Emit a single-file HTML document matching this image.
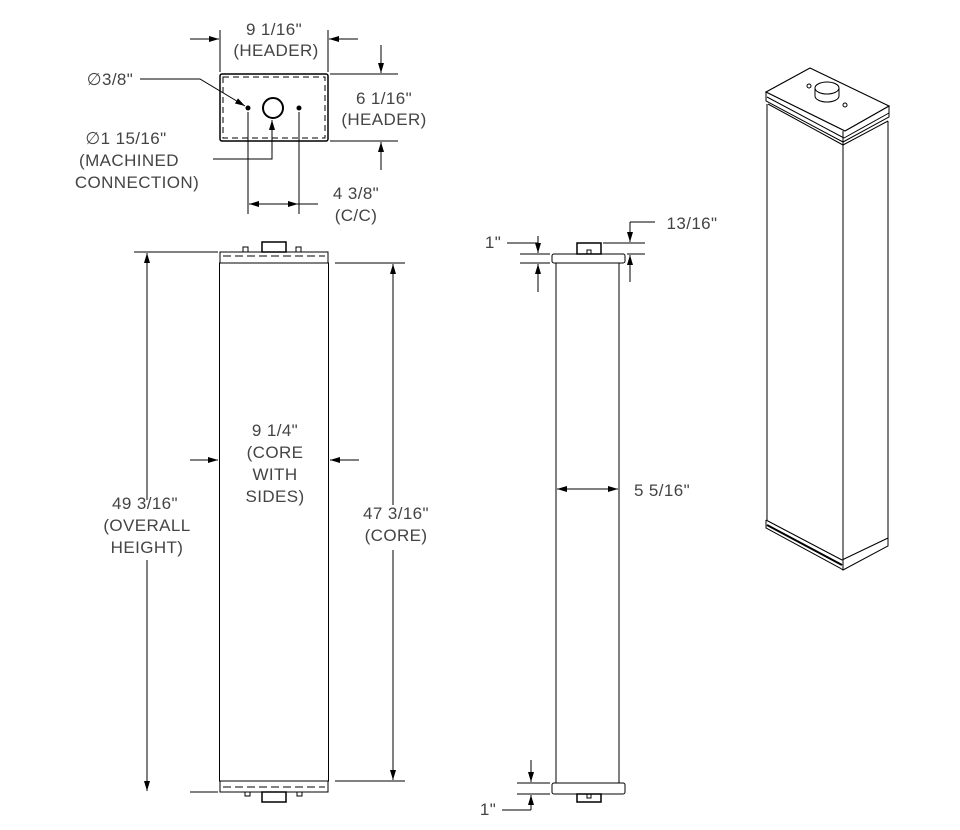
<!DOCTYPE html>
<html><head><meta charset="utf-8"><style>
html,body{margin:0;padding:0;background:#fff;}
svg{display:block;}
text{font-family:"Liberation Sans",sans-serif;font-size:17px;fill:#444;text-anchor:middle;letter-spacing:0.4px;}
</style></head><body>
<svg width="960" height="830" viewBox="0 0 960 830" xmlns="http://www.w3.org/2000/svg">
<defs>
<marker id="a" viewBox="0 0 10 6" refX="10" refY="3" markerWidth="10" markerHeight="6" orient="auto" markerUnits="userSpaceOnUse"><path d="M0,0L10,3L0,6z" fill="#000"/></marker>
</defs>
<g stroke="#000" stroke-width="1" fill="none">
<rect x="220" y="74" width="108" height="67" rx="2" stroke-width="1.5"/>
<rect x="223" y="77" width="102" height="61" stroke-dasharray="6,4"/>
<circle cx="273" cy="108" r="10" stroke-width="2"/>
<circle cx="248" cy="108" r="2" fill="#000"/>
<circle cx="299" cy="108" r="2" fill="#000"/>
<line x1="220" y1="30" x2="220" y2="72"/><line x1="328" y1="30" x2="328" y2="72"/>
<line x1="190" y1="39" x2="219" y2="39" marker-end="url(#a)"/>
<line x1="358" y1="39" x2="329" y2="39" marker-end="url(#a)"/>
<line x1="330" y1="74" x2="398" y2="74"/><line x1="330" y1="141" x2="398" y2="141"/>
<line x1="381" y1="45" x2="381" y2="73" marker-end="url(#a)"/>
<line x1="381" y1="170" x2="381" y2="142" marker-end="url(#a)"/>
<polyline points="140,79 200,79 245,106" marker-end="url(#a)"/>
<polyline points="213,159 272,159 272,120" marker-end="url(#a)"/>
<line x1="248" y1="112" x2="248" y2="214"/><line x1="299" y1="112" x2="299" y2="214"/>
<line x1="275" y1="204" x2="249" y2="204" marker-end="url(#a)"/>
<line x1="318" y1="204" x2="298" y2="204"/>
<line x1="275" y1="204" x2="298" y2="204" marker-end="url(#a)"/>

<rect x="262" y="242" width="24" height="10" stroke-width="1.5"/>
<rect x="243" y="247" width="5" height="5"/><rect x="296" y="247" width="5" height="5"/>
<rect x="220" y="252" width="108" height="11"/>
<line x1="223" y1="256" x2="325" y2="256" stroke-dasharray="8,4"/>
<rect x="219.5" y="263" width="109" height="518"/>
<rect x="220" y="781" width="108" height="11"/>
<line x1="223" y1="787" x2="325" y2="787" stroke-dasharray="8,4"/>
<rect x="262" y="792" width="24" height="10" stroke-width="1.5"/>
<rect x="245" y="792" width="5" height="4"/><rect x="297" y="792" width="5" height="4"/>
<line x1="134" y1="252" x2="218" y2="252"/><line x1="190" y1="792" x2="218" y2="792"/>
<line x1="147" y1="500" x2="147" y2="253" marker-end="url(#a)"/>
<line x1="147" y1="560" x2="147" y2="791" marker-end="url(#a)"/>
<line x1="335" y1="263" x2="405" y2="263"/><line x1="335" y1="781" x2="405" y2="781"/>
<line x1="393" y1="505" x2="393" y2="264" marker-end="url(#a)"/>
<line x1="393" y1="550" x2="393" y2="780" marker-end="url(#a)"/>
<line x1="190" y1="460" x2="218" y2="460" marker-end="url(#a)"/>
<line x1="359" y1="460" x2="330" y2="460" marker-end="url(#a)"/>

<rect x="577" y="243" width="24" height="11" stroke-width="1.5"/>
<rect x="587" y="250" width="4" height="4"/>
<rect x="552" y="254" width="73" height="9" rx="2"/>
<rect x="556" y="263" width="63" height="520"/>
<rect x="552" y="783" width="73" height="11" rx="2"/>
<rect x="577" y="794" width="24" height="8" stroke-width="1.5"/>
<rect x="587" y="794" width="4" height="4"/>
<line x1="520" y1="254" x2="550" y2="254"/><line x1="520" y1="263" x2="550" y2="263"/>
<line x1="538" y1="236" x2="538" y2="253" marker-end="url(#a)"/>
<line x1="538" y1="292" x2="538" y2="264" marker-end="url(#a)"/>
<line x1="507" y1="243" x2="538" y2="243"/>
<line x1="603" y1="243" x2="645" y2="243"/><line x1="627" y1="254" x2="645" y2="254"/>
<line x1="630" y1="222" x2="655" y2="222"/>
<line x1="630" y1="222" x2="630" y2="242" marker-end="url(#a)"/>
<line x1="630" y1="282" x2="630" y2="255" marker-end="url(#a)"/>
<line x1="586" y1="489" x2="557" y2="489" marker-end="url(#a)"/>
<line x1="586" y1="489" x2="618" y2="489" marker-end="url(#a)"/>
<line x1="517" y1="783" x2="550" y2="783"/><line x1="517" y1="794" x2="550" y2="794"/>
<line x1="531" y1="760" x2="531" y2="782" marker-end="url(#a)"/>
<line x1="531" y1="810" x2="531" y2="795" marker-end="url(#a)"/>
<line x1="502" y1="810" x2="531" y2="810"/>

<polygon points="766,92 810,68 889,106 845,131" stroke-width="1.2"/>
<polyline points="766,92 766,101 843,142 889,117 889,106"/>
<line x1="767" y1="97" x2="844" y2="138"/>
<line x1="844" y1="138" x2="889" y2="113"/>
<line x1="768" y1="104" x2="843" y2="145"/>
<line x1="843" y1="145" x2="888" y2="121"/>
<line x1="843" y1="131" x2="843" y2="145"/>
<ellipse cx="827" cy="88" rx="12" ry="6"/>
<path d="M815,88 v8 a12,6 0 0 0 24,0 v-8"/>
<ellipse cx="809" cy="86" rx="2" ry="2"/>
<ellipse cx="845" cy="105" rx="2" ry="2"/>
<line x1="767" y1="104" x2="767" y2="520"/>
<line x1="843" y1="145" x2="843" y2="560"/>
<line x1="888" y1="121" x2="888" y2="540"/>
<polyline points="766,520 766,528 840,568 843,570 888,546 888,538"/>
<line x1="766" y1="520" x2="842" y2="560"/>
<line x1="842" y1="560" x2="888" y2="538"/>
<line x1="767" y1="525" x2="842" y2="565" stroke-width="2"/>
<line x1="843" y1="560" x2="843" y2="570"/>
</g>
<text x="274" y="35">9 1/16"</text>
<text x="276" y="56">(HEADER)</text>
<text x="384" y="104">6 1/16"</text>
<text x="384" y="125">(HEADER)</text>
<text x="110" y="85">∅3/8"</text>
<text x="126" y="144">∅1 15/16"</text>
<text x="129" y="166">(MACHINED</text>
<text x="137" y="188">CONNECTION)</text>
<text x="356" y="199">4 3/8"</text>
<text x="356" y="221">(C/C)</text>
<text x="275" y="436">9 1/4"</text>
<text x="275" y="458">(CORE</text>
<text x="275" y="480">WITH</text>
<text x="275" y="502">SIDES)</text>
<text x="145" y="509">49 3/16"</text>
<text x="147" y="531">(OVERALL</text>
<text x="147" y="553">HEIGHT)</text>
<text x="396" y="519">47 3/16"</text>
<text x="396" y="541">(CORE)</text>
<text x="493" y="248">1"</text>
<text x="692" y="229">13/16"</text>
<text x="662" y="496">5 5/16"</text>
<text x="488" y="815">1"</text>
</svg>
</body></html>
